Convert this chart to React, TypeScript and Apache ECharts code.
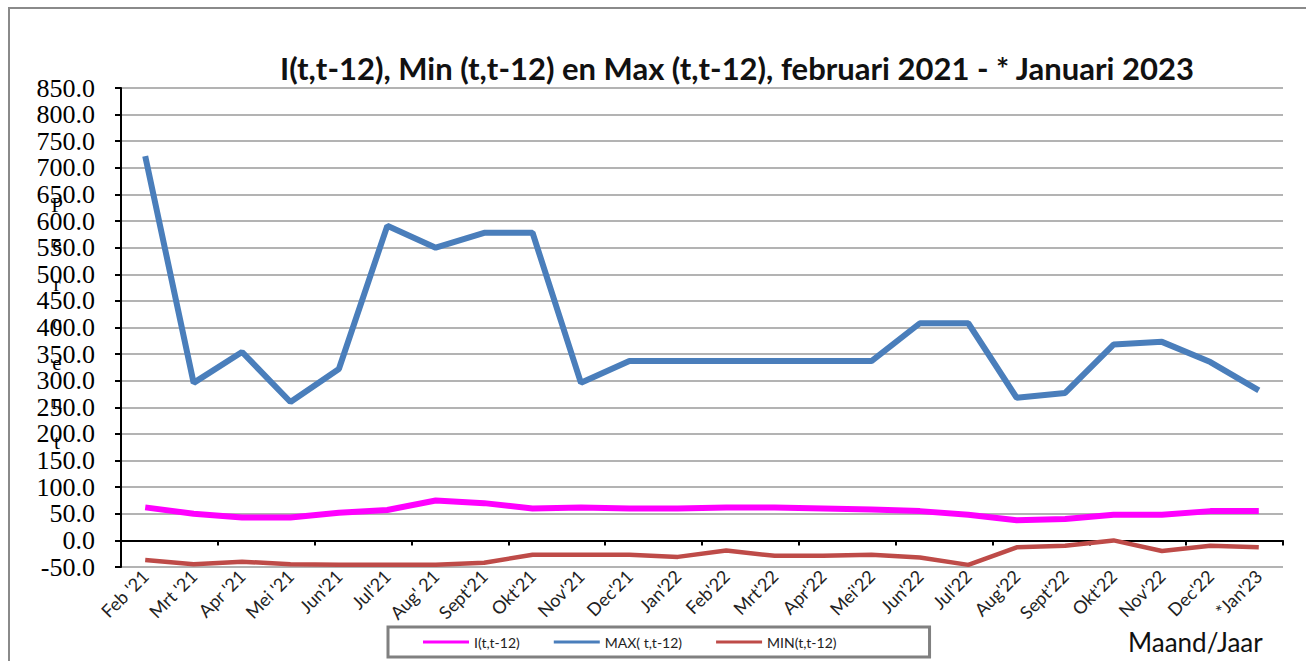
import React, { useEffect, useRef } from "react";
import * as echarts from "echarts";

const categories = [
  "Feb '21", "Mrt '21", "Apr '21", "Mei '21", "Jun'21", "Jul'21", "Aug' 21", "Sept'21",
  "Okt'21", "Nov'21", "Dec'21", "Jan'22", "Feb'22", "Mrt'22", "Apr'22", "Mei'22",
  "Jun'22", "Jul'22", "Aug'22", "Sept'22", "Okt'22", "Nov'22", "Dec'22", "*Jan'23",
];

const seriesI = [62, 50, 43, 43, 52, 57, 75, 70, 60, 62, 60, 60, 62, 62, 60, 58, 55, 48, 38, 40, 48, 48, 55, 55];
const seriesMax = [722, 296, 354, 260, 322, 591, 550, 578, 578, 296, 337, 337, 337, 337, 337, 337, 408, 408, 268, 277, 368, 373, 335, 282];
const seriesMin = [-37, -45, -40, -45, -46, -46, -46, -42, -27, -27, -27, -31, -19, -29, -29, -27, -32, -46, -13, -10, 0, -20, -10, -13];

const yTicks = { min: -50, max: 850, interval: 50 };

export default function App() {
  const ref = useRef<HTMLDivElement>(null);
  useEffect(() => {
    if (!ref.current) return;
    const chart = echarts.init(ref.current, null, { renderer: "svg" });
    chart.setOption({
      animation: false,
      backgroundColor: "#ffffff",
      title: {
        text: "I(t,t-12), Min (t,t-12) en Max (t,t-12), februari 2021 - * Januari 2023",
        left: 275,
        top: 47,
        textStyle: { fontFamily: "Lato", fontWeight: "bold", fontSize: 31, color: "#111" },
      },
      grid: { left: 121, right: 23, top: 88, bottom: 94, containLabel: false },
      legend: {
        left: 388,
        top: 627,
        icon: "rect",
        itemWidth: 46,
        itemHeight: 3,
        itemGap: 34,
        padding: [8, 93, 8, 35],
        borderColor: "#808080",
        borderWidth: 3,
        textStyle: { fontFamily: "Lato", fontSize: 14, color: "#222" },
        data: ["I(t,t-12)", "MAX( t,t-12)", "MIN(t,t-12)"],
      },
      xAxis: [
        {
          type: "category",
          data: categories,
          boundaryGap: true,
          axisLine: { show: false, onZero: false },
          axisTick: { show: false },
          axisLabel: {
            rotate: 45,
            margin: 6,
            interval: 0,
            fontFamily: "Lato",
            fontSize: 18,
            color: "#222",
          },
          splitLine: { show: false },
        },
        {
          type: "category",
          data: categories,
          boundaryGap: true,
          position: "bottom",
          axisLine: { show: true, onZero: true, lineStyle: { color: "#000", width: 2 } },
          axisTick: { show: true, inside: false, length: 5, lineStyle: { color: "#000", width: 2 } },
          axisLabel: { show: false },
          splitLine: { show: false },
        },
      ],
      yAxis: {
        type: "value",
        min: yTicks.min,
        max: yTicks.max,
        interval: yTicks.interval,
        axisLine: { show: true, lineStyle: { color: "#000", width: 2 } },
        axisTick: { show: true, length: 6, lineStyle: { color: "#000", width: 2 } },
        axisLabel: {
          margin: 26,
          fontFamily: "Liberation Serif",
          fontSize: 26,
          color: "#000",
          showMinLabel: true,
          showMaxLabel: true,
          formatter: (v: number) => v.toFixed(1),
        },
        splitLine: { show: true, lineStyle: { color: "#9a9a9a", width: 1.5 } },
      },
      graphic: [
        {
          type: "rect",
          shape: { x: 9, y: 8, width: 1400, height: 700 },
          style: { fill: "none", stroke: "#8a8a8a", lineWidth: 2 },
          silent: true,
          z: -10,
        },
        {
          type: "text",
          left: 1128,
          top: 629,
          style: { text: "Maand/Jaar", fontFamily: "Lato", fontSize: 26, fill: "#111" },
        },
        {
          type: "text",
          x: 57,
          y: 185,
          style: {
            text: "P\ne\nr\nc\ne\nn\nt",
            fontFamily: "Liberation Serif",
            fontSize: 21,
            lineHeight: 39.5,
            align: "center",
            verticalAlign: "top",
            fill: "#000",
          },
          z: 100,
        },
      ],
      series: [
        {
          name: "I(t,t-12)",
          type: "line",
          data: seriesI,
          showSymbol: false,
          lineStyle: { color: "#FF00FF", width: 6 },
          itemStyle: { color: "#FF00FF" },
          z: 3,
        },
        {
          name: "MAX( t,t-12)",
          type: "line",
          data: seriesMax,
          showSymbol: false,
          lineStyle: { color: "#4A7EBB", width: 6 },
          itemStyle: { color: "#4A7EBB" },
          z: 3,
        },
        {
          name: "MIN(t,t-12)",
          type: "line",
          data: seriesMin,
          showSymbol: false,
          lineStyle: { color: "#BE4B48", width: 4.5 },
          itemStyle: { color: "#BE4B48" },
          z: 3,
        },
      ],
    });
    return () => chart.dispose();
  }, []);
  return (
    <div
      ref={ref}
      style={{ position: "fixed", left: 0, top: 0, width: 1306, height: 661 }}
    />
  );
}
